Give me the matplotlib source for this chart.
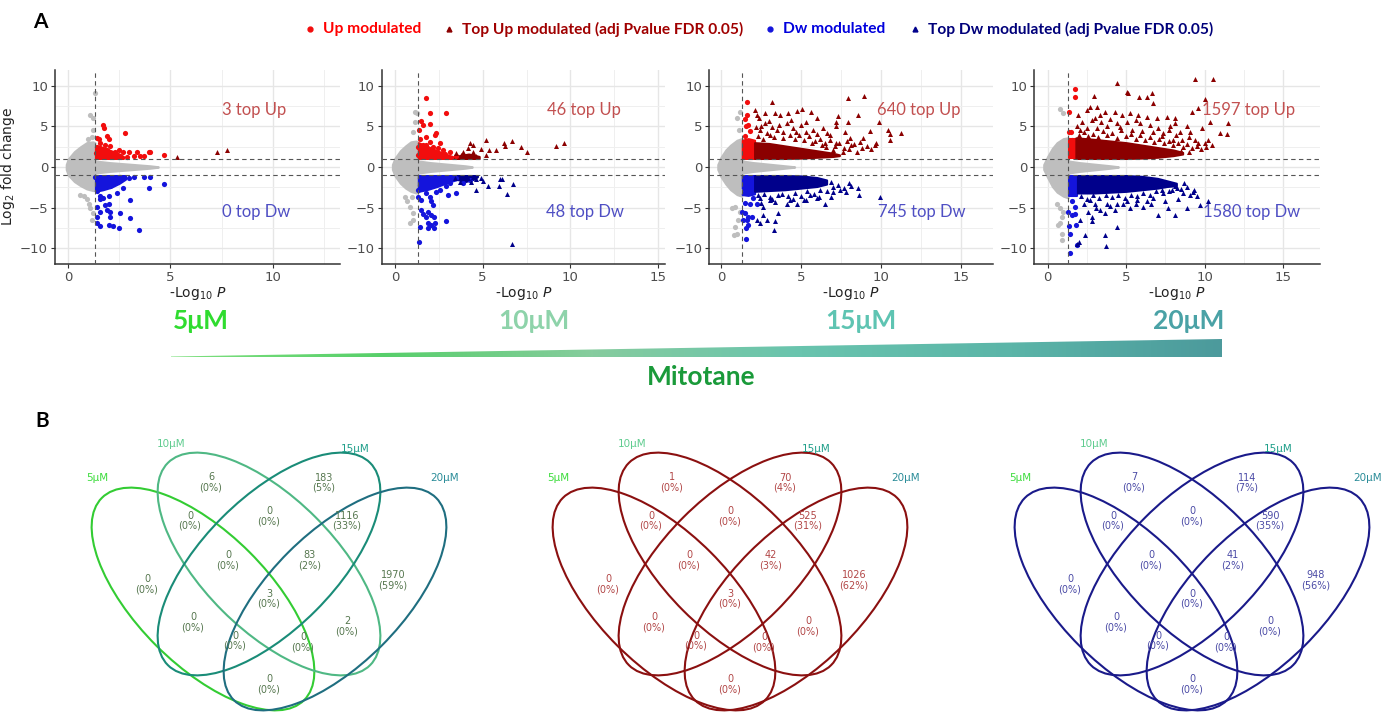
import numpy as np
import matplotlib
matplotlib.use("Agg")
import matplotlib.pyplot as plt
from matplotlib.patches import Ellipse, Polygon
from matplotlib.colors import LinearSegmentedColormap

DOSES = ["5μM", "10μM", "15μM", "20μM"]
TOP_UP_COUNTS = [3, 46, 640, 1597]
TOP_DW_COUNTS = [0, 48, 745, 1580]

# ---- volcano data: (-log10 P, log2 FC) ----
# dense clouds are given as bands (x, low, high); the rest as single genes

# 5 uM
P5_GREY_BAND = [(-0.1, -0.3, 0.3), (0.0, -1.0, 1.0), (0.3, -1.8, 1.9), (0.6, -2.3, 2.5),
                (0.9, -2.7, 3.0), (1.2, -2.9, 3.1), (1.3, -2.9, 3.0), (1.31, -0.75, 0.75),
                (2.0, -0.55, 0.55), (3.0, -0.35, 0.35), (4.0, -0.15, 0.15), (4.4, -0.03, 0.03)]
P5_UP_BAND = [(1.33, 1.05, 2.6), (1.7, 1.05, 2.4), (2.1, 1.05, 2.0), (2.5, 1.05, 1.6), (2.7, 1.05, 1.3)]
P5_DW_BAND = [(1.33, -3.0, -1.05), (1.7, -2.8, -1.05), (2.1, -2.5, -1.05), (2.5, -2.0, -1.05), (2.8, -1.5, -1.05)]
P5_GREY = [(1.31, 9.1), (1.07, 6.4), (1.23, 6.0), (1.2, 4.6), (1.15, 3.75), (0.95, 3.4),
           (0.57, -3.4), (0.9, -4.0), (1.07, -5.1), (1.23, -5.7), (1.15, -6.5), (0.75, -3.6), (1.0, -4.5)]
P5_UP = [(1.72, 5.2), (1.75, 4.8), (2.79, 4.2), (1.89, 3.8), (1.97, 3.4), (1.48, 3.5), (1.39, 3.55),
         (1.56, 2.9), (1.8, 2.7), (2.05, 2.6), (1.56, 2.3), (2.3, 1.9), (2.7, 1.9), (2.95, 1.8),
         (3.36, 1.9), (3.93, 1.8), (4.0, 1.9), (4.67, 1.45), (3.69, 1.3), (3.2, 1.3), (2.54, 1.3),
         (2.05, 1.5), (1.72, 1.7), (1.48, 2.0), (1.48, 1.3), (1.9, 2.1), (2.2, 1.3), (2.87, 1.2),
         (3.5, 1.4), (2.46, 2.1), (1.56, 1.5), (1.39, 2.5), (1.34, 1.7)]
P5_TOP_UP = [(5.33, 1.2), (7.26, 1.8), (7.79, 2.1)]
P5_DW = [(3.93, -2.6), (4.67, -2.1), (3.03, -4.1), (3.03, -6.3), (3.44, -7.7), (2.46, -7.5),
         (2.21, -7.3), (1.97, -7.1), (1.39, -6.9), (1.56, -7.3), (1.39, -6.1), (1.56, -5.5),
         (1.89, -5.3), (2.05, -6.1), (2.05, -5.5), (2.51, -5.7), (1.56, -4.0), (1.56, -3.6),
         (1.72, -3.8), (1.97, -3.6), (2.05, -2.4), (2.38, -3.2), (2.7, -2.6), (2.95, -1.4),
         (3.2, -1.2), (3.69, -1.2), (4.0, -1.2), (2.21, -1.4), (2.54, -1.2), (1.43, -3.0),
         (1.43, -4.9), (1.48, -1.6), (1.72, -2.0), (1.89, -1.6), (1.56, -2.4), (1.31, -1.2),
         (1.97, -4.5), (1.8, -4.7)]
P5_TOP_DW = []

# 10 uM
P10_GREY_BAND = [(-0.15, -0.3, 0.3), (0.0, -1.1, 1.1), (0.3, -2.0, 2.0), (0.6, -2.6, 2.6),
                 (0.9, -3.0, 3.1), (1.2, -3.2, 3.2), (1.3, -3.2, 3.1), (1.31, -0.75, 0.75),
                 (2.0, -0.55, 0.55), (3.0, -0.35, 0.35), (4.0, -0.15, 0.15), (4.4, -0.03, 0.03)]
P10_UP_BAND = [(1.33, 1.05, 3.0), (1.8, 1.05, 2.6), (2.4, 1.05, 2.0), (3.0, 1.05, 1.5), (3.4, 1.05, 1.2)]
P10_TOP_UP_BAND = [(3.4, 1.05, 1.3), (4.2, 1.05, 1.6), (4.8, 1.05, 1.3)]
P10_DW_BAND = [(1.33, -3.0, -1.05), (1.8, -2.8, -1.05), (2.4, -2.4, -1.05), (3.0, -1.9, -1.05), (3.6, -1.5, -1.05)]
P10_TOP_DW_BAND = [(3.5, -1.5, -1.05), (4.0, -1.8, -1.05), (4.5, -1.5, -1.05), (4.7, -1.2, -1.05)]
P10_GREY = [(1.13, 6.8), (1.26, 6.6), (1.13, 5.6), (1.04, 4.35), (0.94, -3.65), (0.66, -4.25),
            (0.85, -4.9), (1.04, -5.7), (0.85, -6.9), (1.0, -6.5), (0.57, -3.65)]
P10_UP = [(1.74, 8.5), (1.98, 6.6), (2.92, 6.7), (1.51, 5.7), (1.57, 5.2), (1.98, 5.3), (1.38, 4.6),
          (2.36, 4.15), (2.26, 3.9), (1.79, 3.7), (1.42, 3.5), (1.98, 3.1), (2.55, 2.9), (1.6, 2.7),
          (2.17, 2.5), (1.89, 2.1), (2.74, 2.1), (3.11, 1.8), (1.42, 1.9), (2.36, 1.5), (2.92, 1.3),
          (3.49, 1.3), (1.6, 1.3), (1.32, 1.5), (1.98, 1.7), (2.45, 2.3), (1.79, 2.7), (1.32, 2.5),
          (2.83, 1.6)]
P10_TOP_UP = [(4.25, 3.0), (4.43, 2.7), (5.19, 3.3), (4.9, 2.2), (5.38, 2.1), (5.75, 2.1), (6.23, 3.0),
              (6.66, 3.2), (6.28, 2.6), (7.17, 2.5), (7.55, 1.9), (9.19, 2.6), (9.64, 3.0), (3.87, 1.9),
              (4.06, 1.3), (4.62, 1.3), (5.19, 1.5), (3.77, 1.5), (4.43, 1.9), (3.49, 1.7), (4.15, 2.3)]
P10_DW = [(1.38, -9.2), (1.32, -3.65), (1.51, -4.1), (1.79, -3.25), (1.98, -3.65), (2.08, -4.25),
          (2.17, -4.7), (1.51, -5.3), (1.6, -5.8), (1.89, -5.5), (2.08, -5.9), (2.21, -6.1),
          (1.79, -6.1), (1.89, -6.85), (2.08, -7.15), (1.89, -7.55), (1.42, -7.35), (2.21, -7.55),
          (2.26, -6.9), (2.89, -6.65), (3.02, -3.45), (3.49, -3.2), (2.55, -2.85), (2.92, -2.4),
          (3.87, -2.0), (4.25, -1.6), (1.32, -2.85), (1.42, -2.2), (1.98, -2.4), (2.36, -1.8),
          (1.79, -1.6), (2.83, -1.6), (3.49, -1.4), (1.42, -1.4), (2.17, -1.3), (3.11, -1.95),
          (1.7, -2.6), (2.36, -3.05)]
P10_TOP_DW = [(3.68, -1.8), (4.15, -1.4), (4.62, -1.5), (4.9, -1.4), (5.04, -1.7), (5.32, -2.35),
              (4.62, -2.85), (5.94, -2.4), (5.98, -1.5), (6.09, -1.5), (6.75, -2.1), (6.38, -3.3),
              (6.66, -9.5), (4.43, -1.2), (3.87, -1.3), (3.4, -1.3), (4.06, -1.2), (4.34, -1.8)]

# 15 uM
P15_GREY_BAND = [(-0.2, -0.3, 0.3), (0.0, -1.2, 1.2), (0.3, -2.1, 2.1), (0.6, -2.8, 2.7),
                 (1.0, -3.4, 3.3), (1.3, -3.6, 3.5), (1.31, -0.75, 0.75), (2.0, -0.55, 0.55),
                 (3.0, -0.35, 0.35), (4.0, -0.15, 0.15), (4.6, -0.03, 0.03)]
P15_UP_BAND = [(1.33, 1.05, 3.3), (1.7, 1.05, 3.5), (2.1, 1.05, 3.3)]
P15_TOP_UP_BAND = [(2.1, 1.05, 3.0), (3.0, 1.05, 2.9), (4.0, 1.05, 2.6), (5.0, 1.1, 2.3),
                   (6.0, 1.2, 2.0), (7.0, 1.3, 1.7), (7.4, 1.4, 1.5)]
P15_DW_BAND = [(1.33, -3.4, -1.05), (1.7, -3.5, -1.05), (2.1, -3.3, -1.05)]
P15_TOP_DW_BAND = [(2.1, -3.0, -1.05), (3.0, -2.9, -1.05), (4.0, -2.8, -1.05), (5.0, -2.6, -1.1),
                   (6.0, -2.4, -1.3), (6.6, -2.1, -1.6)]
P15_GREY = [(1.18, 6.8), (1.02, 6.0), (1.18, -3.0), (0.87, -4.9), (1.18, -5.5), (1.08, -6.5),
            (0.87, -7.35), (0.81, -8.4), (0.98, -8.2), (0.67, -5.1), (1.1, 4.5)]
P15_UP = [(1.64, 8.05), (1.64, 6.4), (1.5, 5.9), (1.56, 5.0), (1.7, 5.2), (1.8, 4.4), (1.5, 3.8), (1.64, 2.9)]
P15_TOP_UP = [(3.16, 8.0), (7.94, 8.55), (8.92, 8.7), (2.12, 7.0), (2.22, 6.4), (2.74, 6.6), (3.37, 6.6),
              (3.68, 6.4), (4.2, 6.6), (4.72, 6.9), (5.09, 7.1), (5.65, 6.8), (5.97, 6.0), (7.32, 6.3),
              (7.2, 5.0), (7.94, 5.6), (8.57, 6.4), (9.88, 5.6), (10.44, 4.6), (10.54, 4.1), (11.27, 4.2),
              (10.54, 3.35), (9.71, 3.0), (9.29, 4.4), (8.67, 3.1), (8.05, 3.55), (7.73, 4.35), (6.8, 3.95),
              (6.38, 4.75), (5.76, 4.55), (5.34, 4.35), (4.51, 4.8), (3.89, 4.35), (3.06, 3.95), (2.43, 4.55),
              (2.74, 5.4), (4.1, 5.4), (5.03, 5.2), (7.2, 5.6), (9.6, 2.7), (8.15, 2.7), (7.2, 2.9),
              (6.59, 2.5), (7.0, 2.1), (2.3, 3.8), (2.6, 3.4), (2.9, 4.2), (3.3, 3.7), (3.5, 4.6),
              (3.9, 3.6), (4.3, 4.0), (4.6, 3.5), (4.9, 3.9), (5.2, 3.3), (5.5, 3.8), (5.9, 3.2),
              (6.2, 3.5), (6.5, 2.9), (6.8, 3.3), (7.1, 2.6), (7.4, 3.0), (7.7, 2.4), (8.0, 2.2),
              (8.3, 2.8), (8.8, 2.3), (9.1, 2.6), (9.4, 2.2), (7.6, 1.9), (8.5, 1.8), (2.5, 5.0),
              (3.0, 5.7), (3.6, 5.2), (4.4, 5.8), (5.3, 5.5), (6.0, 4.1), (6.6, 4.2), (2.2, 4.9),
              (2.4, 6.0), (3.2, 4.9), (4.7, 4.3), (5.7, 3.0), (6.3, 2.7), (7.9, 3.2), (8.9, 3.6)]
P15_DW = [(1.5, -4.4), (1.8, -4.5), (1.29, -5.5), (1.5, -5.7), (1.7, -6.1), (1.39, -6.5), (1.7, -7.1),
          (1.56, -7.55), (1.64, -6.5), (1.91, -6.1), (1.56, -8.85), (2.22, -4.5), (2.02, -3.85)]
P15_TOP_DW = [(8.57, -2.6), (8.63, -3.45), (8.15, -2.4), (7.42, -2.85), (6.9, -3.65), (6.49, -4.5),
              (9.96, -3.75), (5.97, -3.85), (5.34, -4.05), (4.72, -4.5), (4.1, -4.5), (3.58, -5.7),
              (3.37, -6.7), (3.33, -7.75), (2.85, -6.5), (2.43, -6.9), (2.22, -6.5), (2.64, -4.9),
              (3.06, -4.05), (2.43, -3.85), (3.58, -3.45), (3.06, -3.65), (2.64, -5.9), (5.55, -3.45),
              (7.0, -3.05), (7.83, -3.05), (4.3, -4.05), (2.3, -3.5), (2.7, -3.3), (3.2, -3.9),
              (3.8, -3.3), (4.2, -3.6), (4.6, -3.2), (5.0, -3.6), (5.4, -3.0), (5.8, -3.3),
              (6.2, -2.8), (6.6, -3.0), (7.0, -2.5), (7.3, -2.2), (7.7, -2.6), (8.0, -2.0),
              (6.9, -1.9), (2.5, -4.4), (3.4, -4.3), (4.5, -3.9), (5.2, -4.1), (6.1, -3.7)]

# 20 uM
P20_GREY_BAND = [(-0.25, -0.3, 0.3), (0.0, -1.3, 1.3), (0.3, -2.4, 2.3), (0.6, -3.1, 3.0),
                 (1.0, -3.6, 3.5), (1.3, -3.8, 3.6), (1.31, -0.75, 0.75), (2.0, -0.55, 0.55),
                 (3.0, -0.35, 0.35), (4.0, -0.15, 0.15), (4.5, -0.03, 0.03)]
P20_UP_BAND = [(1.33, 1.1, 3.4), (1.8, 1.1, 3.4)]
P20_TOP_UP_BAND = [(1.8, 1.05, 3.6), (3.0, 1.05, 3.4), (4.0, 1.05, 3.2), (5.0, 1.05, 3.0),
                   (6.0, 1.1, 2.7), (7.0, 1.2, 2.4), (8.0, 1.4, 2.1), (8.6, 1.6, 1.8)]
P20_DW_BAND = [(1.33, -3.6, -1.05), (1.9, -3.6, -1.05)]
P20_TOP_DW_BAND = [(1.9, -3.2, -1.05), (3.0, -3.2, -1.05), (4.0, -3.1, -1.05), (5.0, -3.0, -1.05),
                   (6.0, -2.8, -1.15), (7.0, -2.6, -1.4), (7.6, -2.4, -1.7), (8.2, -2.3, -2.0)]
P20_GREY = [(0.79, 7.2), (1.0, 6.6), (0.57, -4.5), (0.79, -5.1), (0.89, -6.1), (0.79, -6.9),
            (0.68, -7.1), (0.89, -8.2), (0.89, -9.0), (1.0, -5.6)]
P20_UP = [(1.74, 9.55), (1.74, 8.65), (1.36, 6.8), (1.36, 4.35), (1.49, 4.35), (1.53, 3.35)]
P20_TOP_UP = [(4.39, 10.3), (9.38, 10.9), (10.55, 10.85), (5.03, 9.3), (5.14, 9.1), (5.84, 8.65),
              (6.62, 9.1), (6.35, 8.6), (2.97, 8.8), (6.69, 7.85), (10.02, 8.35), (9.6, 7.25),
              (9.17, 6.8), (11.5, 5.4), (10.34, 5.5), (10.98, 4.15), (11.4, 4.1), (10.23, 3.35),
              (2.7, 7.45), (3.12, 7.45), (2.48, 7.0), (1.95, 6.4), (3.65, 6.8), (4.29, 6.8),
              (5.24, 6.6), (5.77, 6.4), (6.31, 6.2), (6.94, 6.0), (7.58, 6.1), (8.11, 6.0),
              (8.11, 5.4), (8.85, 5.0), (9.07, 4.35), (9.81, 4.75), (8.43, 4.35), (7.79, 5.0),
              (7.05, 4.75), (6.52, 5.2), (5.88, 5.4), (5.03, 5.6), (4.39, 5.4), (3.76, 5.0),
              (3.12, 4.75), (2.48, 4.75), (2.06, 4.55), (8.54, 3.35), (9.38, 3.35), (10.02, 3.0),
              (8.0, 3.35), (7.37, 4.15), (1.85, 5.0), (4.71, 6.4), (3.33, 6.4),
              (2.0, 3.9), (2.3, 4.3), (2.6, 3.8), (2.9, 4.1), (3.2, 3.7), (3.5, 4.4), (3.8, 3.9),
              (4.1, 4.2), (4.4, 3.6), (4.7, 4.5), (5.0, 3.8), (5.3, 4.1), (5.6, 3.5), (5.9, 3.9),
              (6.2, 3.3), (6.5, 3.7), (6.8, 3.1), (7.1, 3.5), (7.4, 2.9), (7.7, 3.2), (8.0, 2.7),
              (8.3, 3.0), (8.6, 2.5), (8.9, 2.8), (9.2, 2.3), (9.5, 2.6), (9.8, 2.2), (10.1, 2.5),
              (9.0, 1.9), (8.5, 2.0), (2.2, 5.5), (2.8, 5.8), (3.4, 5.5), (4.0, 5.9), (4.6, 4.9),
              (5.4, 4.6), (6.0, 4.4), (6.7, 4.3), (7.3, 3.8), (8.2, 3.9), (9.0, 3.7), (9.6, 3.0),
              (10.5, 2.7), (3.0, 6.0), (5.6, 5.8), (7.7, 4.6)]
P20_DW = [(1.42, -8.2), (1.36, -7.25), (1.32, -5.5), (1.53, -5.9), (1.74, -5.8), (1.74, -4.9),
          (1.53, -4.25), (1.8, -7.15), (1.42, -10.6), (1.89, -9.6)]
P20_TOP_DW = [(1.89, -9.5), (2.02, -9.3), (2.38, -8.4), (3.65, -8.4), (3.72, -9.7), (4.39, -7.35),
              (2.8, -6.7), (2.8, -6.1), (2.06, -6.5), (3.33, -5.3), (3.65, -5.7), (7.05, -5.9),
              (8.11, -5.9), (7.69, -5.1), (8.85, -5.1), (9.7, -4.7), (10.19, -4.25), (9.07, -3.45),
              (9.28, -3.05), (8.64, -3.25), (8.22, -2.6), (7.9, -2.85), (7.37, -3.25), (6.73, -3.85),
              (6.31, -4.25), (5.67, -4.05), (5.03, -4.25), (4.39, -4.5), (3.76, -4.5), (3.01, -4.5),
              (2.7, -4.05), (6.09, -4.9), (5.24, -5.1), (2.1, -3.6), (2.5, -3.9), (2.9, -3.5),
              (3.3, -3.8), (3.7, -3.4), (4.1, -3.7), (4.5, -3.5), (4.9, -3.8), (5.3, -3.4),
              (5.7, -3.6), (6.1, -3.2), (6.5, -3.4), (6.9, -3.0), (7.3, -2.8), (7.7, -2.9),
              (8.1, -2.4), (8.5, -2.7), (8.9, -2.5), (9.3, -2.8), (8.7, -2.0), (2.3, -4.6),
              (3.1, -5.0), (4.0, -4.8), (4.8, -4.6), (5.6, -4.5), (6.6, -4.6), (7.5, -4.2),
              (8.3, -4.0), (2.6, -5.6), (4.3, -5.3), (9.5, -3.6)]

# ---- Venn counts: all modulated / top up / top down ----
VENN_REGIONS = ["5", "10", "15", "20", "5&10", "10&15", "15&20", "5&10&15", "10&15&20",
                "5&10&15&20", "5&15", "10&20", "5&15&20", "5&10&20", "5&20"]
VENN_ALL = [0, 6, 183, 1970, 0, 0, 1116, 0, 83, 3, 0, 2, 0, 0, 0]
VENN_TOP_UP = [0, 1, 70, 1026, 0, 0, 525, 0, 42, 3, 0, 0, 0, 0, 0]
VENN_TOP_DW = [0, 7, 114, 948, 0, 0, 590, 0, 41, 0, 0, 0, 0, 0, 0]

C_GREY = "#bebebe"
C_UP = "#f20d0d"
C_TOP_UP = "#8b0000"
C_DW = "#1414dc"
C_TOP_DW = "#00008b"
DOSE_COLORS = ["#2fdc2f", "#8ed3aa", "#5ec4b2", "#4aa2a6"]
SET_LABEL_COLORS = ["#3ddc3d", "#5fcc8f", "#1f9f8a", "#2a8c98"]

fig = plt.figure(figsize=(13.9, 7.18), dpi=100)
over = fig.add_axes([0, 0, 1, 1])
over.set_xlim(0, 1390)
over.set_ylim(718, 0)
over.axis("off")


def band(ax, rows, color):
    x = [r[0] for r in rows]
    lo = [r[1] for r in rows]
    hi = [r[2] for r in rows]
    ax.fill_between(x, lo, hi, color=color, lw=1.5, edgecolor=color, zorder=2)


def pts(ax, rows, color, marker, s):
    if not rows:
        return
    x = [r[0] for r in rows]
    y = [r[1] for r in rows]
    ax.scatter(x, y, s=s, c=color, marker=marker, linewidths=0, zorder=3)


panels = [
    dict(grey_band=P5_GREY_BAND, up_band=P5_UP_BAND, dw_band=P5_DW_BAND, top_up_band=None,
         top_dw_band=None, grey=P5_GREY, up=P5_UP, top_up=P5_TOP_UP, dw=P5_DW, top_dw=P5_TOP_DW),
    dict(grey_band=P10_GREY_BAND, up_band=P10_UP_BAND, dw_band=P10_DW_BAND, top_up_band=P10_TOP_UP_BAND,
         top_dw_band=P10_TOP_DW_BAND, grey=P10_GREY, up=P10_UP, top_up=P10_TOP_UP, dw=P10_DW, top_dw=P10_TOP_DW),
    dict(grey_band=P15_GREY_BAND, up_band=P15_UP_BAND, dw_band=P15_DW_BAND, top_up_band=P15_TOP_UP_BAND,
         top_dw_band=P15_TOP_DW_BAND, grey=P15_GREY, up=P15_UP, top_up=P15_TOP_UP, dw=P15_DW, top_dw=P15_TOP_DW),
    dict(grey_band=P20_GREY_BAND, up_band=P20_UP_BAND, dw_band=P20_DW_BAND, top_up_band=P20_TOP_UP_BAND,
         top_dw_band=P20_TOP_DW_BAND, grey=P20_GREY, up=P20_UP, top_up=P20_TOP_UP, dw=P20_DW, top_dw=P20_TOP_DW),
]

# axes boxes in pixels (left, right), x-limits and annotation x positions
boxes = [(55, 340), (381.7, 665), (709.3, 993), (1034.3, 1320)]
xlims = [(-0.65, 13.3), (-0.76, 15.4), (-0.73, 17.0), (-0.85, 17.35)]
note_x = [(9.1, 9.2), (10.75, 10.85), (12.35, 12.56), (12.8, 13.0)]
W, H = 1390.0, 718.0
top_px, bot_px = 70, 264

for i, p in enumerate(panels):
    l, r = boxes[i]
    ax = fig.add_axes([l / W, 1 - bot_px / H, (r - l) / W, (bot_px - top_px) / H])
    ax.set_xlim(*xlims[i])
    ax.set_ylim(-11.95, 11.95)
    ax.set_xticks([0, 5, 10] if i == 0 else [0, 5, 10, 15])
    ax.set_xticks(np.arange(0, xlims[i][1], 2.5), minor=True)
    ax.set_yticks([-10, -5, 0, 5, 10])
    ax.set_yticks(np.arange(-10, 11, 2.5), minor=True)
    ax.grid(which="major", color="#e6e6e6", lw=1.0)
    ax.grid(which="minor", color="#efefef", lw=0.7)
    ax.set_axisbelow(True)
    for s in ("top", "right"):
        ax.spines[s].set_visible(False)
    for s in ("left", "bottom"):
        ax.spines[s].set_color("#333333")
        ax.spines[s].set_linewidth(1.1)
    ax.tick_params(which="major", length=3, color="#333333", labelsize=9.5, labelcolor="#4d4d4d", pad=2)
    ax.tick_params(which="minor", length=0)

    band(ax, p["grey_band"], C_GREY)
    pts(ax, p["grey"], C_GREY, "o", 14)
    band(ax, p["up_band"], C_UP)
    band(ax, p["dw_band"], C_DW)
    if p["top_up_band"]:
        band(ax, p["top_up_band"], C_TOP_UP)
    if p["top_dw_band"]:
        band(ax, p["top_dw_band"], C_TOP_DW)
    pts(ax, p["up"], C_UP, "o", 14)
    pts(ax, p["dw"], C_DW, "o", 14)
    pts(ax, p["top_up"], C_TOP_UP, "^", 13)
    pts(ax, p["top_dw"], C_TOP_DW, "^", 13)

    ax.axvline(1.3, color="#555555", lw=0.8, ls=(0, (4, 3)), zorder=4)
    ax.axhline(1, color="#555555", lw=0.8, ls=(0, (4, 3)), zorder=4)
    ax.axhline(-1, color="#555555", lw=0.8, ls=(0, (4, 3)), zorder=4)

    ax.text(note_x[i][0], 7.05, f"{TOP_UP_COUNTS[i]} top Up", color="#c25050",
            fontsize=12, family="Lato", ha="center", va="center")
    ax.text(note_x[i][1], -5.5, f"{TOP_DW_COUNTS[i]} top Dw", color="#4f4fc4",
            fontsize=12, family="Lato", ha="center", va="center")
    ax.set_xlabel(r"-Log$_{10}$ $P$", fontsize=10, color="#222222", labelpad=1)
    if i == 0:
        ax.set_ylabel(r"Log$_2$ fold change", fontsize=10, color="#222222", labelpad=2)

# panel letters and legend
over.text(33, 22, "A", fontsize=15, fontweight="bold", family="Lato", va="center")
over.text(35, 421, "B", fontsize=15, fontweight="bold", family="Lato", va="center")

legend_items = [
    (310, "o", C_UP, "Up modulated", "#ff0000"),
    (449, "^", C_TOP_UP, "Top Up modulated (adj Pvalue FDR 0.05)", "#a00000"),
    (770, "o", C_DW, "Dw modulated", "#0000dd"),
    (915, "^", C_TOP_DW, "Top Dw modulated (adj Pvalue FDR 0.05)", "#00007a"),
]
for x, mk, mc, label, tc in legend_items:
    over.plot([x], [29], marker=mk, color=mc, ms=3.5, ls="none")
    over.text(x + 13, 29, label, color=tc, fontsize=11.2, fontweight="bold",
              family="Lato", va="center", ha="left")

# dose labels and gradient wedge
dose_x = [201, 534, 861, 1189]
for x, lab, c in zip(dose_x, DOSES, DOSE_COLORS):
    over.text(x, 321, lab, color=c, fontsize=19, fontweight="bold", family="Lato",
              ha="center", va="center")

grad = LinearSegmentedColormap.from_list(
    "mitotane", ["#7ee07e", "#57cf6a", "#86cc9e", "#69c4ae", "#5bb5a8", "#4c9a9c"])
wedge = Polygon([(171, 356.5), (1222, 339), (1222, 357), (171, 357)], closed=True,
                facecolor="none", edgecolor="none")
over.add_patch(wedge)
img = over.imshow(np.linspace(0, 1, 512)[None, :], cmap=grad, aspect="auto",
                  extent=[171, 1222, 357, 339], zorder=1)
img.set_clip_path(wedge)
over.set_xlim(0, 1390)
over.set_ylim(718, 0)
over.text(701, 377, "Mitotane", color="#1a9a3a", fontsize=19, fontweight="bold",
          family="Lato", ha="center", va="center")

# ---- Venn diagrams ----
region_pos = {
    "5": (-122, 584), "10": (-58, 482), "15": (55, 483), "20": (124, 580),
    "5&10": (-79, 521), "10&15": (0, 516), "15&20": (78, 521),
    "5&10&15": (-41, 560), "10&15&20": (41, 560), "5&10&15&20": (0, 599),
    "5&15": (-76, 622), "10&20": (78, 626), "5&15&20": (-34, 641),
    "5&10&20": (34, 642), "5&20": (0, 684),
}
set_label_pos = [(-172, 478), (-98, 444), (86, 449), (176, 478)]
venns = [
    (269, VENN_ALL, ["#33cc33", "#4fb884", "#1a8c78", "#1f6e80"], "#56774f"),
    (730, VENN_TOP_UP, ["#8b1010"] * 4, "#b24747"),
    (1192, VENN_TOP_DW, ["#1a1a8a"] * 4, "#4b4ba6"),
]
a_ax, b_ax = 286, 132
for cx, counts, ecols, tcol in venns:
    centers = [(cx - 66, 599, 45), (cx, 564, 45), (cx, 564, -45), (cx + 66, 599, -45)]
    for (ex, ey, ang), ec in zip(centers, ecols):
        over.add_patch(Ellipse((ex, ey), a_ax, b_ax, angle=ang, fill=False,
                               edgecolor=ec, lw=1.5, zorder=3))
    total = sum(counts)
    for name, v in zip(VENN_REGIONS, counts):
        dx, y = region_pos[name]
        pct = int(100.0 * v / total + 0.5)
        over.text(cx + dx, y, f"{v}\n({pct}%)", color=tcol, fontsize=7, ha="center",
                  va="center", linespacing=1.0, zorder=4)
    for (dx, y), lab, c in zip(set_label_pos, DOSES, SET_LABEL_COLORS):
        over.text(cx + dx, y, lab, color=c, fontsize=7.5, ha="center", va="center")

fig.savefig("out.png", dpi=100)
